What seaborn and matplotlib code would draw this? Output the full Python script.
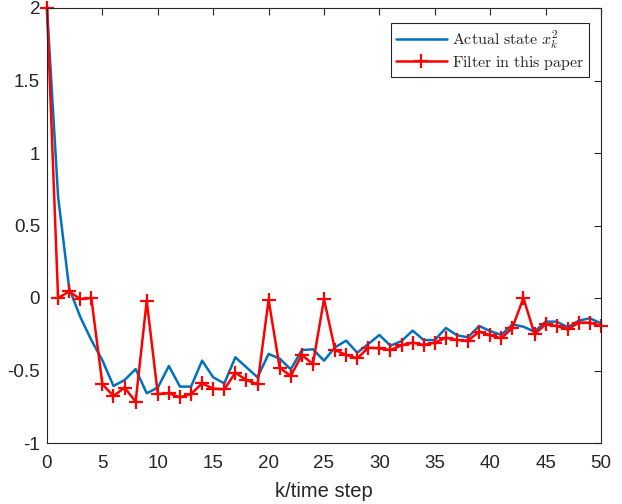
import numpy as np
import pandas as pd
import seaborn as sns
import matplotlib
matplotlib.use("Agg")
import matplotlib.pyplot as plt

steps = list(range(0, 51))
actual = [2.0, 0.70, 0.067, -0.13, -0.29, -0.43, -0.607, -0.566, -0.49, -0.657,
          -0.618, -0.469, -0.611, -0.611, -0.432, -0.547, -0.589, -0.409, -0.478, -0.547,
          -0.386, -0.418, -0.492, -0.359, -0.354, -0.432, -0.34, -0.294, -0.377, -0.317,
          -0.255, -0.329, -0.297, -0.225, -0.29, -0.29, -0.207, -0.257, -0.271, -0.193,
          -0.228, -0.255, -0.182, -0.198, -0.232, -0.163, -0.163, -0.202, -0.156, -0.140,
          -0.175]
filtered = [2.0, 0.0, 0.045, -0.007, 0.0, -0.595, -0.676, -0.618, -0.715, -0.02,
            -0.662, -0.657, -0.685, -0.662, -0.589, -0.625, -0.63, -0.515, -0.566, -0.595,
            -0.012, -0.481, -0.538, -0.393, -0.455, -0.008, -0.359, -0.393, -0.416, -0.343,
            -0.347, -0.359, -0.326, -0.308, -0.324, -0.308, -0.274, -0.29, -0.294, -0.232,
            -0.257, -0.278, -0.205, 0.0, -0.248, -0.182, -0.193, -0.216, -0.170, -0.170,
            -0.193]
labels = [r"$\mathrm{Actual\ state\ }x_k^2$", r"$\mathrm{Filter\ in\ this\ paper}$"]
x_ticks = [0, 5, 10, 15, 20, 25, 30, 35, 40, 45, 50]
y_ticks = [-1, -0.5, 0, 0.5, 1, 1.5, 2]
x_label = "k/time step"

sns.set_theme(style="white")
plt.rcParams['font.family'] = ['Liberation Sans', 'DejaVu Sans']
plt.rcParams['mathtext.fontset'] = 'cm'
plt.rcParams['xtick.direction'] = 'in'
plt.rcParams['ytick.direction'] = 'in'

df = pd.DataFrame({"k": steps, "actual": actual, "filtered": filtered})

fig = plt.figure(figsize=(6.22, 5.04), dpi=100)
ax = fig.add_axes([47/622, 1-443/504, (601-47)/622, (443-8)/504])

sns.lineplot(data=df, x="k", y="actual", ax=ax, color="#0072BD", linewidth=1.8,
             label=labels[0])
sns.lineplot(data=df, x="k", y="filtered", ax=ax, color="#FF0000", linewidth=1.8,
             marker="+", markersize=10, markeredgewidth=1.6, markeredgecolor="#FF0000",
             label=labels[1])
for ln in ax.get_lines():
    ln.set_clip_on(False)

ax.set_xlim(0, 50)
ax.set_ylim(-1, 2)
ax.set_xticks(x_ticks)
ax.set_yticks(y_ticks)
ax.set_yticklabels([f"{v:g}" for v in y_ticks])
ax.set_xlabel(x_label, fontsize=14.5, color="#262626", labelpad=7)
ax.set_ylabel("")
ax.tick_params(axis="both", labelsize=13.5, colors="#262626", length=5, width=0.8,
               top=True, right=True)
ax.tick_params(axis="x", pad=9)
ax.tick_params(axis="y", pad=5)
for s in ax.spines.values():
    s.set_visible(True)
    s.set_color("#262626")
    s.set_linewidth(0.8)

leg = ax.legend(loc="upper right", bbox_to_anchor=(0.978, 0.965), fontsize=11.5,
                frameon=True, fancybox=False, framealpha=1, edgecolor="#262626",
                handlelength=3.2, handletextpad=0.3, borderpad=0.3, labelspacing=0.2,
                borderaxespad=0)
leg.get_frame().set_linewidth(0.8)
leg.set_zorder(5)

fig.savefig("out.png", dpi=100)
